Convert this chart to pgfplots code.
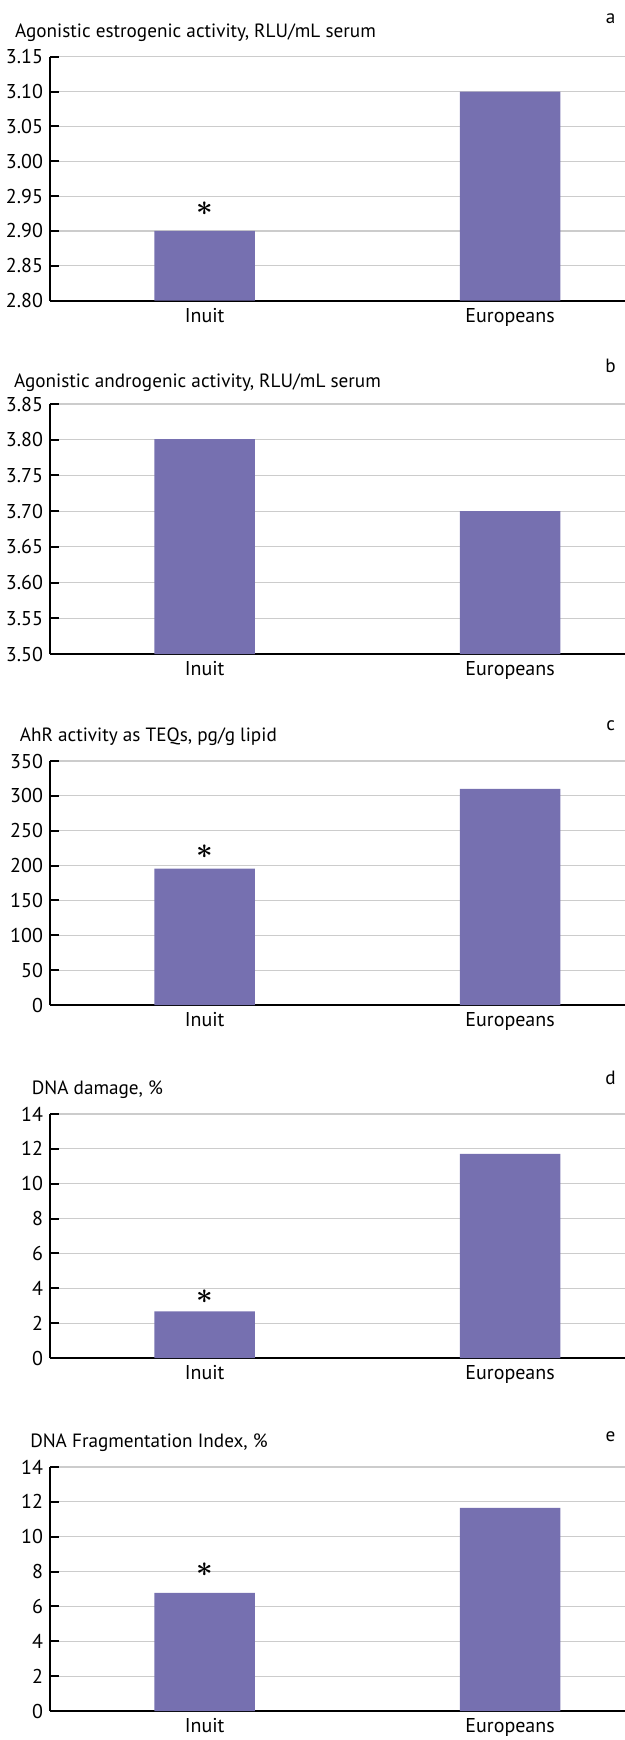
\documentclass[border=0pt]{standalone}
\usepackage{fontspec}
\setmainfont{PT Sans}
\usepackage{pgfplots}
\pgfplotsset{compat=1.18}

\definecolor{barc}{RGB}{118,112,176}
\definecolor{gridc}{RGB}{204,204,204}

\newcommand{\fs}{\fontsize{10}{12}\selectfont}
\newcommand{\ts}{\fontsize{9.6}{12}\selectfont}

\pgfplotsset{
  panel/.style={
    scale only axis, width=287.5pt, anchor=north west,
    xmin=-0.506, xmax=1.376,
    axis x line*=bottom, axis y line*=left,
    axis line style={line width=1pt, -},
    xtick={0,1}, xticklabels={Inuit,Europeans},
    x tick style={draw=none},
    ytick pos=left, tick align=inside,
    major tick length=4.5pt,
    y tick style={black, line width=1pt},
    ymajorgrids, grid style={gridc, line width=0.6pt},
    ybar, bar width=50.2pt, bar shift=0pt,
    tick label style={font=\fs},
    xticklabel style={anchor=base, yshift=-6.3pt},
    /pgf/number format/assume math mode=true,
  },
  twodec/.style={yticklabel style={/pgf/number format/fixed,
    /pgf/number format/fixed zerofill, /pgf/number format/precision=2}},
  barfill/.style={fill=barc, draw=none},
}
\tikzset{
  asterisk/.style={font=\fontsize{15}{15}\selectfont\boldmath, anchor=center, inner sep=0pt},
  lbl/.style={font=\ts, anchor=base west},
  letter/.style={font=\ts, anchor=base},
}

\begin{document}
\begin{tikzpicture}
\useasboundingbox (0,0) rectangle (312.5pt,-870pt);

% a
\node[lbl] at (4pt,-18.85pt) {Agonistic estrogenic activity, RLU/mL serum};
\node[letter] at (305.3pt,-12pt) {a};
\begin{axis}[panel, twodec, at={(25pt,-28.35pt)}, height=122pt,
  ymin=2.80, ymax=3.15, ytick={2.80,2.85,2.90,2.95,3.00,3.05,3.10,3.15}]
\addplot[barfill] coordinates {(0,2.90) (1,3.10)};
\node[asterisk, yshift=11.35pt] at (axis cs:0,2.90) {$\ast$};
\end{axis}

% b
\node[lbl] at (3.5pt,-193.8pt) {Agonistic androgenic activity, RLU/mL serum};
\node[letter] at (305.3pt,-186.2pt) {b};
\begin{axis}[panel, twodec, at={(25pt,-202pt)}, height=125pt,
  ymin=3.50, ymax=3.85, ytick={3.50,3.55,3.60,3.65,3.70,3.75,3.80,3.85}]
\addplot[barfill] coordinates {(0,3.801) (1,3.70)};
\end{axis}

% c
\node[lbl] at (6.4pt,-370.8pt) {AhR activity as TEQs, pg/g lipid};
\node[letter] at (305.3pt,-365pt) {c};
\begin{axis}[panel, at={(25pt,-380.5pt)}, height=122pt,
  ymin=0, ymax=350, ytick={0,50,100,150,200,250,300,350}]
\addplot[barfill] coordinates {(0,195.7) (1,310)};
\node[asterisk, yshift=8.5pt] at (axis cs:0,195.7) {$\ast$};
\end{axis}

% d
\node[lbl] at (12.4pt,-547.2pt) {DNA damage, \%};
\node[letter] at (305.3pt,-542pt) {d};
\begin{axis}[panel, at={(25pt,-557pt)}, height=122pt,
  ymin=0, ymax=14, ytick={0,2,4,6,8,10,12,14}]
\addplot[barfill] coordinates {(0,2.67) (1,11.71)};
\node[asterisk, yshift=7.5pt] at (axis cs:0,2.67) {$\ast$};
\end{axis}

% e
\node[lbl] at (11.6pt,-723.7pt) {DNA Fragmentation Index, \%};
\node[letter] at (305.3pt,-720.8pt) {e};
\begin{axis}[panel, at={(25pt,-733.5pt)}, height=122pt,
  ymin=0, ymax=14, ytick={0,2,4,6,8,10,12,14}]
\addplot[barfill] coordinates {(0,6.78) (1,11.66)};
\node[asterisk, yshift=11.5pt] at (axis cs:0,6.78) {$\ast$};
\end{axis}
\end{tikzpicture}
\end{document}
